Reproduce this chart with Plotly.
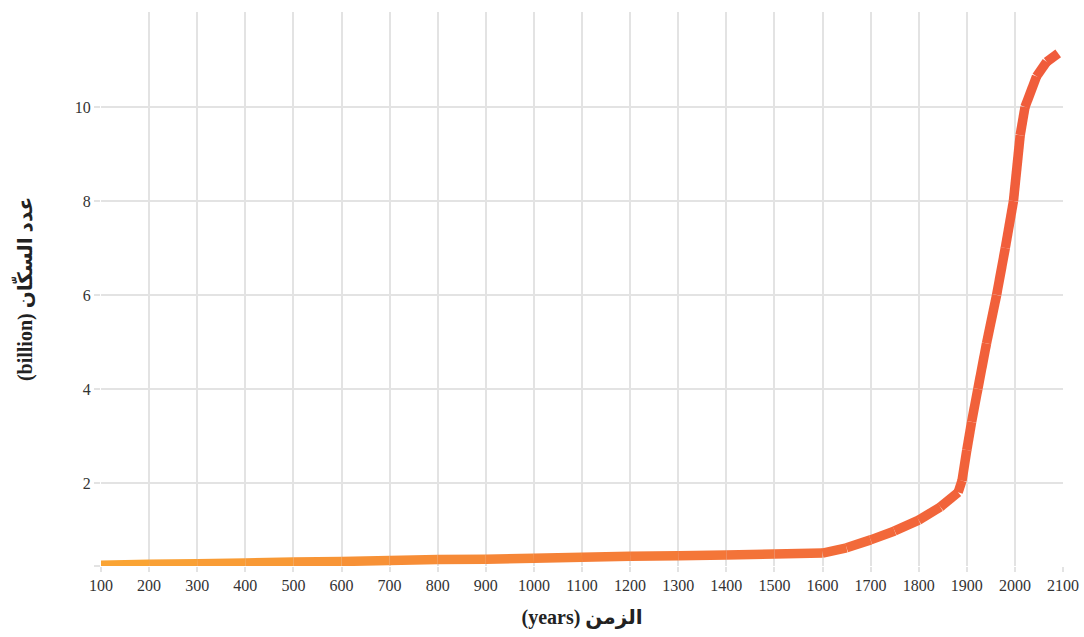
import plotly.graph_objects as go

# Data
years = [100, 200, 300, 400, 500, 600, 700, 800, 900, 1000, 1100, 1200, 1300, 1400, 1500, 1600,
         1650, 1700, 1750, 1800, 1845, 1882, 1890, 1900, 1910, 1923, 1941, 1962, 1980, 1997,
         2011, 2021, 2045, 2066, 2090]
population = [0.25, 0.27, 0.28, 0.30, 0.32, 0.33, 0.35, 0.37, 0.38, 0.40, 0.42, 0.44, 0.45, 0.47, 0.49, 0.51,
              0.62, 0.79, 0.98, 1.21, 1.49, 1.80, 2.05, 2.70, 3.30, 4.00, 4.97, 6.00, 7.00, 8.00,
              9.40, 10.00, 10.65, 10.96, 11.14]
x_ticks = list(range(100, 2101, 100))
y_ticks = [2, 4, 6, 8, 10]
x_title = "(years) الزمن"
y_title = "(billion) عدد السكّان"

# gradient colours of the line (left -> right)
c_start = (250, 166, 52)
c_end = (240, 90, 59)
x_min, x_max = 100, 2100
y_min, y_max = 0.234, 12.02


def mix(t):
    r = [round(a + (b - a) * t) for a, b in zip(c_start, c_end)]
    return f"rgb({r[0]},{r[1]},{r[2]})"


fig = go.Figure()
for i in range(len(years) - 1):
    xm = (years[i] + years[i + 1]) / 2
    t = (xm - x_min) / (x_max - x_min)
    fig.add_trace(go.Scatter(
        x=years[i:i + 2], y=population[i:i + 2], mode="lines",
        line=dict(color=mix(t), width=9.5),
        hoverinfo="skip", showlegend=False,
    ))

font_family = "Liberation Serif, Times New Roman, DejaVu Serif, serif"
title_family = "Liberation Serif, DejaVu Sans, serif"
fig.update_layout(
    width=1084, height=637,
    margin=dict(l=101, r=21, t=12, b=71, autoexpand=False),
    paper_bgcolor="white", plot_bgcolor="white",
    font=dict(family=font_family, size=16, color="#333333"),
    xaxis=dict(
        range=[x_min, x_max], tickvals=x_ticks,
        showgrid=True, gridcolor="#e3e3e3", gridwidth=2,
        ticks="outside", ticklen=5, tickcolor="#e3e3e3", tickwidth=2,
        zeroline=False, showline=False, automargin=False,
        tickfont=dict(size=16, color="#333333", family=font_family),
        title=dict(text=x_title, font=dict(size=20, color="#222222", family=title_family, weight="bold"), standoff=16),
    ),
    yaxis=dict(
        range=[y_min, y_max], tickvals=[y_min] + y_ticks, ticktext=[""] + [str(v) for v in y_ticks],
        showgrid=True, gridcolor="#e3e3e3", gridwidth=2,
        ticks="outside", ticklen=6, tickcolor="#e3e3e3", tickwidth=2,
        zeroline=False, showline=False, automargin=False,
        tickfont=dict(size=16, color="#333333", family=font_family),
        title=dict(text=y_title, font=dict(size=20, color="#222222", family=title_family, weight="bold"), standoff=36),
    ),
)

fig.write_html("out.html", config={"displayModeBar": False},
               post_script="document.body.style.margin='0';document.body.style.overflow='hidden';")
